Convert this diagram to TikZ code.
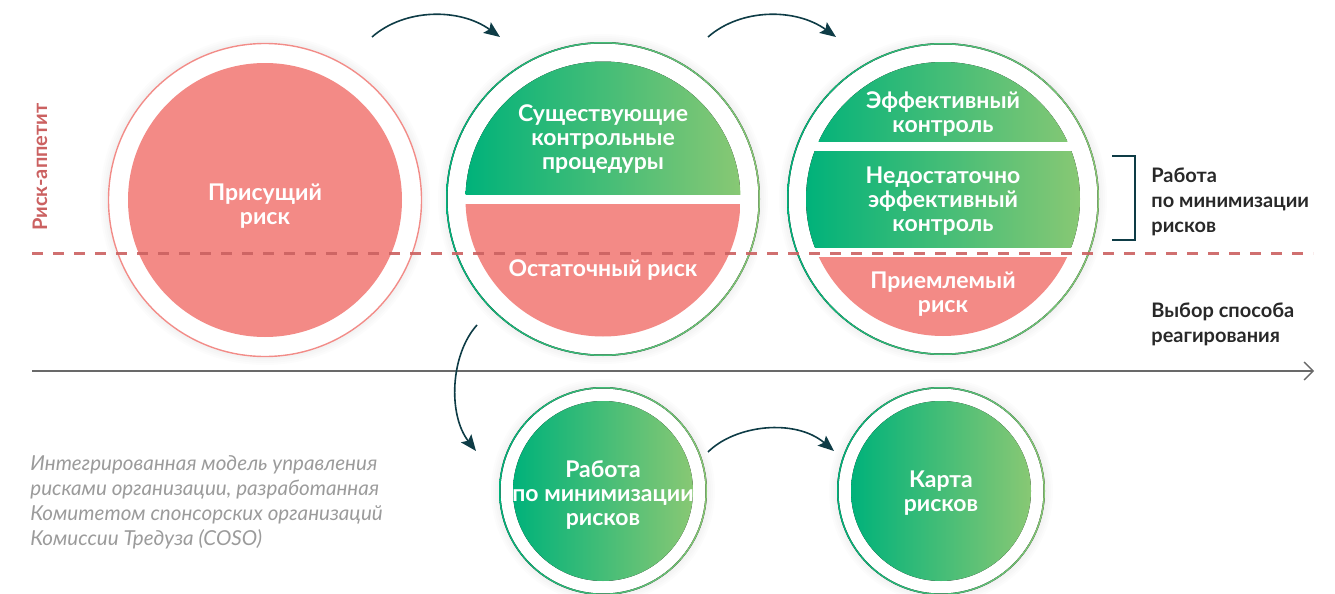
\documentclass[tikz,border=0pt]{standalone}
\usepackage{fontspec}
\setmainfont{Lato}
\usetikzlibrary{arrows.meta,positioning}
\definecolor{riskpink}{RGB}{243,138,134}
\definecolor{ringpink}{RGB}{242,140,136}
\definecolor{greenL}{RGB}{0,178,122}
\definecolor{greenR}{RGB}{136,200,116}
\definecolor{darkteal}{RGB}{14,60,70}
\definecolor{dashred}{RGB}{203,97,97}
\definecolor{axisgray}{RGB}{105,105,105}
\definecolor{textdark}{RGB}{40,40,40}
\definecolor{capgray}{RGB}{155,155,155}
\tikzset{>=latex}

\begin{document}
\begin{tikzpicture}[x=0.5pt, y=-0.5pt,
    lbl/.style={text=white, font=\bfseries\fontsize{11.5}{12}\selectfont, align=center},
    side/.style={text=textdark, font=\bfseries\fontsize{10}{12.5}\selectfont, align=left, anchor=west, inner sep=0pt},
    flow/.style={->, draw=darkteal, line width=0.8pt, >={Stealth[length=8pt,width=6.5pt,inset=1.5pt]}},
    greenfill/.style={left color=greenL, right color=greenR},
    greenring/.style={left color=greenL, right color=greenR, even odd rule},
    halo/.style={fill=black, opacity=0.012}]
  \useasboundingbox (0,0) rectangle (1335,594);

  % circle centres
  \coordinate (inh) at (265,200);
  \coordinate (res) at (603,199);
  \coordinate (acc) at (943,199);
  \coordinate (work) at (603,491);
  \coordinate (map) at (941,491);

  % soft shadows
  \foreach \r in {2,4,6,8} {
    \fill[halo] (inh) circle (157+\r);
    \fill[halo] (res) circle (157+\r);
    \fill[halo] (acc) circle (156+\r);
    \fill[halo] (work) circle (104+\r);
    \fill[halo] (map) circle (104+\r);
  }
  \fill[white] (inh) circle (157);
  \fill[white] (res) circle (157);
  \fill[white] (acc) circle (156);
  \fill[white] (work) circle (104);
  \fill[white] (map) circle (104);

  % outer rings
  \draw[ringpink, line width=0.7pt] (inh) circle (156.5);
  \fill[greenring] (res) circle (157) circle (155.5);
  \fill[greenring] (acc) circle (156) circle (154.5);
  \fill[greenring] (work) circle (104) circle (102.5);
  \fill[greenring] (map) circle (104) circle (102.5);

  % inner discs
  \fill[riskpink] (inh) circle (137);
  \begin{scope}
    \clip (res) circle (137.5);
    \fill[greenfill] (465,60) rectangle (741,194);
    \fill[riskpink] (465,204) rectangle (741,338);
  \end{scope}
  \begin{scope}
    \clip (acc) circle (137);
    \fill[greenfill] (805,60) rectangle (1081,141);
    \fill[greenfill] (805,151) rectangle (1081,247);
    \fill[riskpink] (805,257) rectangle (1081,338);
  \end{scope}
  \fill[greenfill] (work) circle (90);
  \fill[greenfill] (map) circle (90);

  % labels in the circles
  \node[lbl] (inhtxt) at (265,206) {Присущий\\риск};
  \node[lbl] (ctrltxt) at (603,139) {Существующие\\контрольные\\процедуры};
  \node[lbl] (restxt) at (603,270) {Остаточный риск};
  \node[lbl] (efftxt) at (943,114) {Эффективный\\контроль};
  \node[lbl] (weaktxt) at (943,201) {Недостаточно\\эффективный\\контроль};
  \node[lbl] (acctxt) at (943,294) {Приемлемый\\риск};
  \node[lbl] (worktxt) at (work) [yshift=-2pt] {Работа\\по минимизации\\рисков};
  \node[lbl] (maptxt) at (map) [yshift=-1pt] {Карта\\рисков};

  % risk appetite line
  \node[rotate=90, text=dashred, font=\bfseries\fontsize{10}{12}\selectfont] (appetite) at (40,167) {Риск-аппетит};
  \coordinate (d0) at (32,253);
  \coordinate (d1) at (1313,253);
  \draw[dashred, opacity=0.9, line width=1.5pt, dash pattern=on 5.5pt off 5pt] (d0) -- (d1);

  % axis
  \coordinate (ax0) at (32,371);
  \coordinate (ax1) at (1314,371);
  \draw[axisgray, line width=0.7pt, -{Straight Barb[length=4.5pt,width=9pt]}] (ax0) -- (ax1);

  % bracket and side texts
  \coordinate (b0) at (1112,156);
  \coordinate (b1) at (1112,240);
  \draw[darkteal, line width=0.6pt] (b0) -| (1135,240) -- (b1);
  \node[side] (worknote) at (1151,202) {Работа\\по минимизации\\рисков};
  \node[side] (choice) at (1151,324) {Выбор способа\\реагирования};

  % caption
  \node[text=capgray, font=\itshape\fontsize{10.3}{12.5}\selectfont, align=left, anchor=west, inner sep=0pt] (coso) at (30,502)
    {Интегрированная модель управления\\рисками организации, разработанная\\Комитетом спонсорских организаций\\Комиссии Тредуза (COSO)};

  % arrows
  \coordinate (a1s) at (372,37);
  \coordinate (a1e) at (500,37);
  \coordinate (a2s) at (708,37);
  \coordinate (a2e) at (836,37);
  \coordinate (a3s) at (477,325);
  \coordinate (a3e) at (476,451);
  \coordinate (a4s) at (708,452);
  \coordinate (a4e) at (834,451);
  \draw[flow] (a1s) .. controls (405,8) and (460,8) .. (a1e);
  \draw[flow] (a2s) .. controls (741,8) and (796,8) .. (a2e);
  \draw[flow] (a3s) .. controls (450,355) and (448,415) .. (a3e);
  \draw[flow] (a4s) .. controls (735,425) and (795,418) .. (a4e);
\end{tikzpicture}
\end{document}
